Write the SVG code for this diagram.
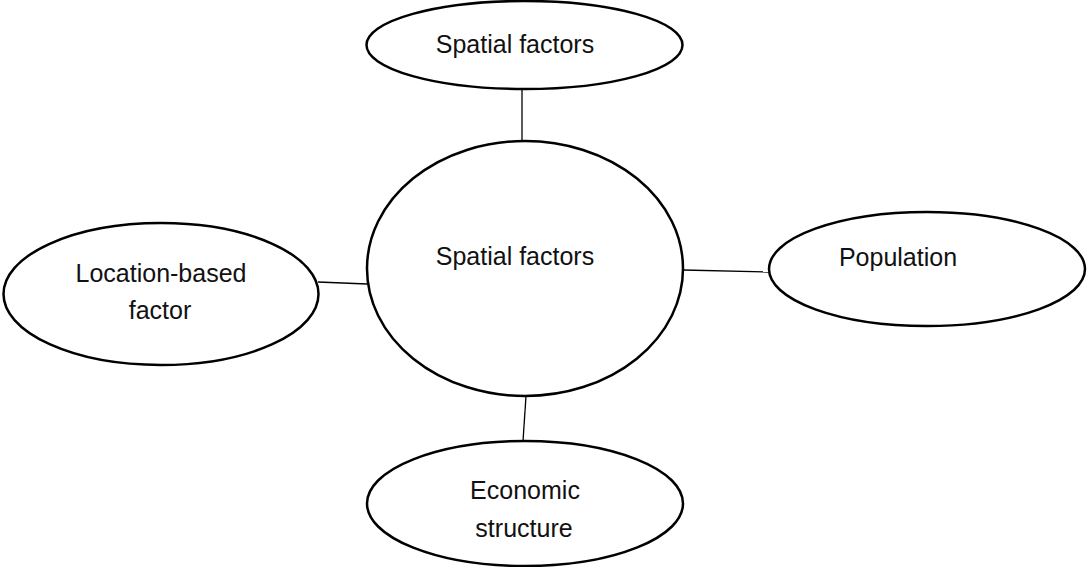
<svg xmlns="http://www.w3.org/2000/svg" width="1088" height="567" viewBox="0 0 1088 567">
<style>
.n{fill:#fff;stroke:#000;stroke-width:2.5}
.t{font-family:"Liberation Sans",Arial,sans-serif;font-size:25px;fill:#111;text-anchor:middle}
.c{stroke:#000;stroke-width:1.3;fill:none}
</style>
<rect width="1088" height="567" fill="#fff"/>
<g id="connectors">
<line class="c" x1="522" y1="89" x2="522" y2="141"/>
<line class="c" x1="318" y1="282" x2="367" y2="284"/>
<line class="c" x1="683" y1="270" x2="769" y2="272"/>
<line class="c" x1="526" y1="396" x2="523" y2="441"/>
</g>
<g id="top">
<ellipse class="n" cx="524.5" cy="45" rx="158" ry="44"/>
<text class="t" x="515" y="53">Spatial factors</text>
</g>
<g id="center">
<ellipse class="n" cx="525" cy="268.5" rx="158" ry="127.5"/>
<text class="t" x="515" y="265">Spatial factors</text>
</g>
<g id="left">
<ellipse class="n" cx="161" cy="294" rx="157.5" ry="71"/>
<text class="t" x="161" y="282">Location-based</text>
<text class="t" x="160" y="319">factor</text>
</g>
<g id="right">
<ellipse class="n" cx="927" cy="269" rx="158" ry="57"/>
<text class="t" x="898" y="266">Population</text>
</g>
<g id="bottom">
<ellipse class="n" cx="525" cy="503.5" rx="158" ry="62.5"/>
<text class="t" x="525" y="499">Economic</text>
<text class="t" x="524" y="537">structure</text>
</g>
</svg>
